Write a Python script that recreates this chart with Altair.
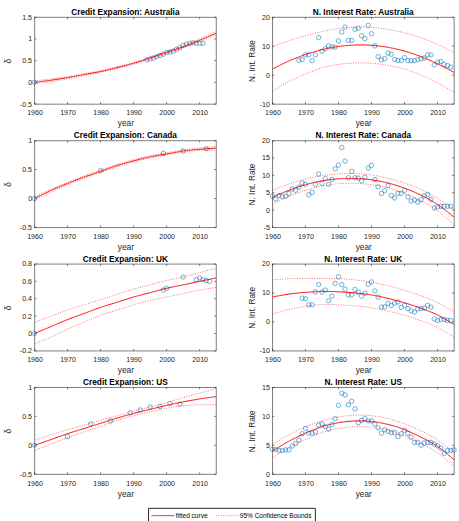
import altair as alt
import pandas as pd

FONT = "Liberation Sans"
INK = "#262626"
BLUE = "#0072BD"
FIT_RED = "#FF0000"

# Sample years for the fitted curves and their 95% bounds
FIT_YEARS = [1960, 1965, 1970, 1975, 1980, 1985, 1990, 1995, 2000, 2005, 2010, 2015]
X_TICKS = [1960, 1970, 1980, 1990, 2000, 2010]
SERIES = ["fitted curve", "95% Confidence Bounds"]

# ---- Credit expansion (delta) ----
au_cr_years = [1960] + list(range(1994, 2012))
au_cr_vals = [0.00, 0.52, 0.54, 0.56, 0.59, 0.62, 0.65, 0.69, 0.70, 0.72, 0.76,
              0.80, 0.85, 0.88, 0.90, 0.91, 0.90, 0.90, 0.90]
au_cr_fit = [0.00, 0.05, 0.11, 0.18, 0.25, 0.34, 0.44, 0.56, 0.69, 0.82, 0.97, 1.13]
au_cr_up = [0.03, 0.08, 0.13, 0.20, 0.27, 0.36, 0.46, 0.58, 0.71, 0.84, 1.00, 1.17]
au_cr_lo = [-0.03, 0.02, 0.08, 0.15, 0.23, 0.32, 0.42, 0.54, 0.67, 0.80, 0.94, 1.09]

ca_cr_years = [1960, 1980, 1999, 2005, 2012]
ca_cr_vals = [0.00, 0.48, 0.78, 0.82, 0.86]
ca_cr_fit = [0.00, 0.14, 0.26, 0.37, 0.47, 0.57, 0.65, 0.72, 0.77, 0.82, 0.85, 0.87]
ca_cr_up = [0.03, 0.16, 0.28, 0.39, 0.49, 0.59, 0.67, 0.74, 0.79, 0.84, 0.87, 0.90]
ca_cr_lo = [-0.03, 0.11, 0.24, 0.35, 0.45, 0.55, 0.63, 0.70, 0.75, 0.80, 0.83, 0.84]

uk_cr_years = [1960, 1999, 2000, 2005, 2009, 2010, 2011, 2012, 2013]
uk_cr_vals = [0.00, 0.50, 0.52, 0.65, 0.62, 0.64, 0.62, 0.61, 0.60]
uk_cr_fit = [0.00, 0.08, 0.16, 0.23, 0.30, 0.36, 0.42, 0.47, 0.52, 0.56, 0.60, 0.64]
uk_cr_up = [0.13, 0.20, 0.27, 0.33, 0.39, 0.45, 0.51, 0.56, 0.61, 0.65, 0.70, 0.75]
uk_cr_lo = [-0.12, -0.04, 0.05, 0.13, 0.21, 0.27, 0.33, 0.38, 0.42, 0.46, 0.50, 0.53]

us_cr_years = [1960, 1970, 1977, 1983, 1989, 1992, 1995, 1998, 2001, 2004]
us_cr_vals = [0.00, 0.15, 0.37, 0.42, 0.56, 0.61, 0.66, 0.67, 0.72, 0.71]
us_cr_fit = [0.00, 0.10, 0.20, 0.29, 0.38, 0.47, 0.55, 0.62, 0.69, 0.75, 0.80, 0.84]
us_cr_up = [0.09, 0.18, 0.27, 0.35, 0.43, 0.51, 0.59, 0.66, 0.74, 0.82, 0.90, 0.98]
us_cr_lo = [-0.09, 0.02, 0.13, 0.23, 0.33, 0.43, 0.51, 0.58, 0.64, 0.68, 0.70, 0.70]

# ---- Nominal interest rates ----
au_ir_years = list(range(1968, 2015))
au_ir_vals = [5.1, 5.4, 7.0, 7.0, 5.0, 7.0, 13.0, 8.2, 9.1, 10.1,
              9.7, 9.7, 11.8, 14.9, 16.6, 12.0, 12.0, 15.8, 16.2, 13.6,
              12.6, 17.2, 14.3, 10.1, 6.4, 5.3, 5.7, 7.6, 7.2, 5.4,
              5.1, 5.1, 6.1, 5.0, 5.0, 5.0, 5.4, 5.6, 5.9, 7.0,
              7.0, 3.5, 4.5, 4.7, 3.7, 3.3, 2.8]
au_ir_fit = [2.1, 4.9, 7.1, 8.8, 9.9, 10.4, 10.3, 9.6, 8.3, 6.4, 3.9, 0.9]
au_ir_up = [9.8, 11.9, 13.6, 15.0, 16.1, 16.6, 16.5, 15.8, 14.6, 12.9, 10.6, 7.8]
au_ir_lo = [-5.6, -2.2, 0.4, 2.5, 3.7, 4.2, 4.1, 3.4, 2.1, 0.0, -2.7, -5.9]

ca_ir_years = list(range(1960, 2015))
ca_ir_vals = [4.0, 3.2, 4.2, 3.9, 4.0, 4.8, 6.1, 5.7, 6.6, 7.8,
              7.4, 4.4, 5.1, 7.4, 10.4, 7.7, 9.1, 7.4, 8.8, 11.9,
              13.0, 18.0, 14.1, 9.3, 11.1, 9.3, 9.2, 8.4, 9.5, 12.1,
              12.9, 8.8, 6.7, 4.8, 5.6, 7.1, 4.2, 3.5, 4.8, 4.8,
              5.7, 3.8, 2.6, 2.9, 2.3, 3.0, 4.1, 4.5, 3.1, 0.6,
              0.9, 1.1, 1.1, 1.1, 1.1]
ca_ir_fit = [3.7, 5.7, 7.3, 8.4, 9.0, 9.1, 8.7, 7.8, 6.3, 4.3, 1.6, -2.0]
ca_ir_up = [5.7, 7.5, 8.9, 9.9, 10.4, 10.5, 10.1, 9.2, 7.8, 5.9, 3.4, 0.2]
ca_ir_lo = [1.7, 3.9, 5.7, 6.9, 7.6, 7.7, 7.3, 6.4, 4.8, 2.7, -0.2, -4.2]

uk_ir_years = list(range(1969, 2015))
uk_ir_vals = [8.2, 8.0, 5.9, 5.9, 10.4, 12.9, 10.3, 11.0, 7.3, 8.9,
              13.3, 15.6, 12.9, 11.3, 9.3, 9.3, 11.2, 10.3, 8.9, 9.9,
              13.0, 13.8, 10.7, 8.6, 5.1, 5.2, 6.4, 5.7, 6.5, 6.9,
              5.0, 5.7, 4.6, 3.8, 3.4, 4.5, 4.6, 4.8, 5.7, 5.1,
              1.0, 0.5, 0.8, 0.9, 0.5, 0.5]
uk_ir_fit = [8.6, 9.6, 10.2, 10.5, 10.4, 10.0, 9.3, 8.1, 6.6, 4.7, 2.4, -0.9]
uk_ir_up = [14.5, 14.9, 15.0, 15.0, 14.9, 14.5, 13.7, 12.5, 10.9, 9.0, 6.7, 3.5]
uk_ir_lo = [2.7, 4.3, 5.4, 6.0, 5.9, 5.5, 4.9, 3.7, 2.3, 0.4, -1.9, -5.3]

us_ir_years = list(range(1960, 2016))
us_ir_vals = [4.3, 4.3, 4.1, 4.1, 4.2, 4.2, 4.9, 5.3, 5.9, 7.0,
              7.9, 7.1, 7.1, 7.3, 8.5, 8.7, 8.2, 7.8, 8.6, 9.6,
              11.9, 14.0, 13.7, 12.0, 12.6, 11.3, 8.9, 9.3, 9.6, 9.2,
              9.2, 8.7, 8.0, 7.1, 7.7, 7.4, 7.2, 7.2, 6.5, 7.0,
              7.6, 7.1, 6.4, 5.5, 5.5, 5.0, 5.4, 5.5, 5.5, 5.2,
              4.9, 4.5, 3.6, 4.1, 4.1, 4.2]
us_ir_fit = [4.0, 5.7, 7.1, 8.2, 8.9, 9.2, 9.1, 8.6, 7.7, 6.4, 4.8, 2.5]
us_ir_up = [5.2, 6.8, 8.2, 9.2, 9.9, 10.2, 10.1, 9.6, 8.7, 7.5, 5.9, 3.7]
us_ir_lo = [2.8, 4.6, 6.0, 7.2, 7.9, 8.2, 8.1, 7.6, 6.7, 5.3, 3.7, 1.3]

PANEL_W = 184
PANEL_H = 88
TICK_LEN = 2

LEGEND = alt.Legend(
    orient="none", legendX=115, legendY=497, direction="horizontal", title=None,
    symbolType="M-1,0H4.8", symbolSize=64, symbolStrokeColor=FIT_RED, symbolStrokeWidth=0.8,
    labelFont=FONT, labelFontSize=6.6, labelColor="#000000", labelOffset=16,
    columnPadding=6, padding=3, strokeColor=INK, fillColor="white",
)


def make_panel(title, ytitle, ydomain, yticks, px, py, fit, upper, lower, title_x):
    pts = pd.DataFrame({"year": px, "value": py})
    curves = pd.DataFrame({"year": FIT_YEARS, "fit": fit, "upper": upper, "lower": lower})
    xt = pd.DataFrame({"year": X_TICKS})
    yt = pd.DataFrame({"value": yticks})

    x_enc = alt.X(
        "year:Q",
        scale=alt.Scale(domain=[1960, 2015], nice=False, zero=False),
        axis=alt.Axis(values=X_TICKS, format="d", title="year", labelFlush=False),
    )
    y_scale = alt.Scale(domain=ydomain, nice=False, zero=False)
    y_axis = alt.Axis(values=yticks, title=ytitle, labelExpr="'' + datum.value",
                      titleX=title_x, titleY=PANEL_H / 2, labelFlush=False)
    y_enc = alt.Y("value:Q", scale=y_scale, axis=y_axis)

    points = alt.Chart(pts).mark_point(
        shape="circle", filled=False, size=20, strokeWidth=0.8, color=BLUE
    ).encode(x=x_enc, y=y_enc)

    lines = alt.Chart(curves).transform_fold(
        ["fit", "upper", "lower"], as_=["band", "value"]
    ).transform_calculate(
        series="datum.band == 'fit' ? 'fitted curve' : '95% Confidence Bounds'"
    ).mark_line(color=FIT_RED, clip=True, interpolate="natural").encode(
        x=x_enc,
        y=y_enc,
        detail="band:N",
        strokeDash=alt.StrokeDash(
            "series:N",
            scale=alt.Scale(domain=SERIES, range=[[1, 0], [1, 1.5]]),
            legend=LEGEND,
        ),
        strokeWidth=alt.StrokeWidth(
            "series:N", scale=alt.Scale(domain=SERIES, range=[1.0, 0.6]), legend=None
        ),
    )

    # inward tick marks on all four sides of the box
    tick = dict(color=INK, strokeWidth=0.6)
    xt_bottom = alt.Chart(xt).mark_rule(**tick).encode(
        x=x_enc, y=alt.value(PANEL_H), y2=alt.value(PANEL_H - TICK_LEN))
    xt_top = alt.Chart(xt).mark_rule(**tick).encode(
        x=x_enc, y=alt.value(0), y2=alt.value(TICK_LEN))
    yt_left = alt.Chart(yt).mark_rule(**tick).encode(
        y=y_enc, x=alt.value(0), x2=alt.value(TICK_LEN))
    yt_right = alt.Chart(yt).mark_rule(**tick).encode(
        y=y_enc, x=alt.value(PANEL_W - TICK_LEN), x2=alt.value(PANEL_W))

    return alt.layer(xt_bottom, xt_top, yt_left, yt_right, points, lines).properties(
        width=PANEL_W,
        height=PANEL_H,
        title=alt.TitleParams(title, fontSize=8.4, fontWeight="bold", font=FONT,
                              color="#000000", offset=2, dy=5, frame="group"),
    )


panels = [
    make_panel("Credit Expansion: Australia", "δ", [-0.5, 1.5], [-0.5, 0, 0.5, 1, 1.5],
               au_cr_years, au_cr_vals, au_cr_fit, au_cr_up, au_cr_lo, -22),
    make_panel("N. Interest Rate: Australia", "N. Int. Rate", [-10, 20], [-10, 0, 10, 20],
               au_ir_years, au_ir_vals, au_ir_fit, au_ir_up, au_ir_lo, -16),
    make_panel("Credit Expansion: Canada", "δ", [-0.5, 1], [-0.5, 0, 0.5, 1],
               ca_cr_years, ca_cr_vals, ca_cr_fit, ca_cr_up, ca_cr_lo, -22),
    make_panel("N. Interest Rate: Canada", "N. Int. Rate", [-5, 20], [-5, 0, 5, 10, 15, 20],
               ca_ir_years, ca_ir_vals, ca_ir_fit, ca_ir_up, ca_ir_lo, -16),
    make_panel("Credit Expansion: UK", "δ", [-0.2, 0.8], [-0.2, 0, 0.2, 0.4, 0.6, 0.8],
               uk_cr_years, uk_cr_vals, uk_cr_fit, uk_cr_up, uk_cr_lo, -22),
    make_panel("N. Interest Rate: UK", "N. Int. Rate", [-10, 20], [-10, 0, 10, 20],
               uk_ir_years, uk_ir_vals, uk_ir_fit, uk_ir_up, uk_ir_lo, -16),
    make_panel("Credit Expansion: US", "δ", [-0.5, 1], [-0.5, 0, 0.5, 1],
               us_cr_years, us_cr_vals, us_cr_fit, us_cr_up, us_cr_lo, -22),
    make_panel("N. Interest Rate: US", "N. Int. Rate", [0, 15], [0, 5, 10, 15],
               us_ir_years, us_ir_vals, us_ir_fit, us_ir_up, us_ir_lo, -16),
]

chart = alt.concat(
    *panels, columns=2, spacing={"row": 37, "column": 57}, bounds="flush",
).properties(
    padding={"left": 3, "top": 4, "right": 0, "bottom": 0},
    background="white",
).configure_view(
    stroke=INK, strokeWidth=0.6,
).configure_axis(
    domain=False, ticks=False, grid=False,
    labelFont=FONT, labelFontSize=7.2, labelColor=INK, labelPadding=3,
    titleFont=FONT, titleFontSize=8.4, titleFontWeight="normal", titleColor=INK,
).configure_axisX(
    labelPadding=5, titlePadding=3,
)

chart.save("out.html", embed_options={"renderer": "svg", "actions": False})
